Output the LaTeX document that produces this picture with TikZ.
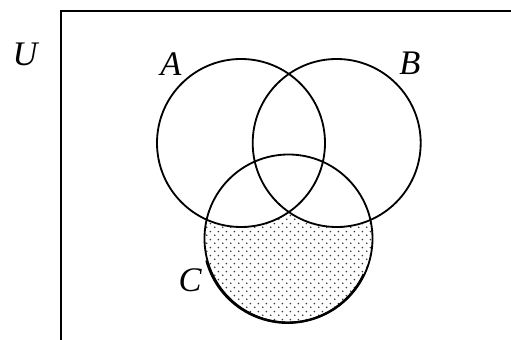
\documentclass[tikz,border=0pt]{standalone}
\usepackage{fontspec}
\setmainfont{Liberation Serif}
\usepackage{xcolor}
\usepackage{tikz}
\usetikzlibrary{patterns.meta, backgrounds}
\definecolor{V_LINE}{HTML}{000000}
\definecolor{V_DOT} {HTML}{333333}
\tikzdeclarepattern{
  name=venndots, type=uncolored,
  bottom left={(0pt,0pt)}, top right={(5.4pt,5.4pt)},
  tile size={(5.4pt,5.4pt)},
  code={
    \fill (1.35pt,1.35pt) circle[radius=0.65pt];
    \fill (4.05pt,4.05pt) circle[radius=0.65pt];
  }
}
\tikzset{
  %% -- one set of the Venn diagram --
  venn/set/.style={
    circle, draw=V_LINE, line width=1.3pt,
    minimum size=42mm, inner sep=0pt
  },
  %% -- set label --
  venn/lbl/.style={
    font=\fontsize{24.5}{26}\selectfont\itshape, inner sep=0pt
  },
  %% -- universe frame --
  venn/frame/.style={draw=V_LINE, line width=1.4pt},
  %% -- dotted shading --
  venn/shade/.style={pattern=venndots, pattern color=V_DOT},
}

\begin{document}
\begin{tikzpicture}[
  x=0.25mm, y=0.25mm,
]
\useasboundingbox (0,0) rectangle (511,340);

%% Universe
\draw[venn/frame] (61,-5) -- (61,329) -- (520,329);

%% Sets
\node[venn/set] (A) at (241,197)     {};
\node[venn/set] (B) at (336.7,197)   {};
\node[venn/set] (C) at (288.5,101.5) {};

%% C minus (A or B), shaded
\begin{scope}[on background layer]
  \fill[venn/shade] (C.center) circle[radius=84];
  \fill[white] (A.center) circle[radius=84];
  \fill[white] (B.center) circle[radius=84];
\end{scope}
\draw[line width=1.7pt] (C.195) arc[start angle=195, end angle=335, radius=84];

%% Labels
\node[venn/lbl] (lU) at (25,286) {U};
\node[venn/lbl] (lA) at (171,276) {A};
\node[venn/lbl] (lB) at (410,277) {B};
\node[venn/lbl] (lC) at (190,60)  {C};
\end{tikzpicture}
\end{document}
